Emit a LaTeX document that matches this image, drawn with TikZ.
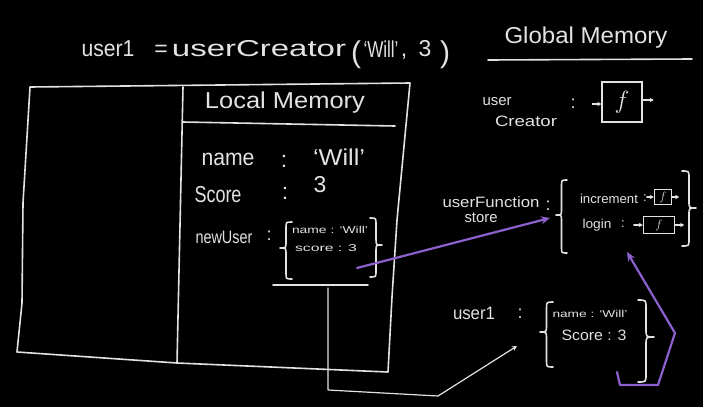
\documentclass[tikz,border=0pt]{standalone}
\usepackage{fontspec}
\setmainfont{Liberation Sans}
\usetikzlibrary{arrows.meta}
\definecolor{chalk}{RGB}{226,226,226}
\definecolor{pchalk}{RGB}{140,96,205}
\newcommand{\hw}[2]{\resizebox{#1pt}{\height}{#2}}
\newcommand{\fsBig}{\fontsize{23}{26}\selectfont}
\newcommand{\fsHuge}{\fontsize{30}{32}\selectfont}
\newcommand{\fsMid}{\fontsize{18}{20}\selectfont}
\newcommand{\fsSm}{\fontsize{15}{17}\selectfont}
\newcommand{\fsXs}{\fontsize{13}{15}\selectfont}
\newcommand{\fsTiny}{\fontsize{10}{12}\selectfont}
% left brace: x of open ends, ytop, ybot, ytip, width
\newcommand{\chalkLB}[5]{\draw[chalkline] (#1,#2) .. controls ({#1-#5/2},#2) .. ({#1-#5/2},{#2+#5/2}) -- ({#1-#5/2},{#4-#5/2}) .. controls ({#1-#5/2},#4) .. ({#1-#5},#4) .. controls ({#1-#5/2},#4) .. ({#1-#5/2},{#4+#5/2}) -- ({#1-#5/2},{#3-#5/2}) .. controls ({#1-#5/2},#3) .. (#1,#3);}
\newcommand{\chalkRB}[5]{\draw[chalkline] (#1,#2) .. controls ({#1+#5/2},#2) .. ({#1+#5/2},{#2+#5/2}) -- ({#1+#5/2},{#4-#5/2}) .. controls ({#1+#5/2},#4) .. ({#1+#5},#4) .. controls ({#1+#5/2},#4) .. ({#1+#5/2},{#4+#5/2}) -- ({#1+#5/2},{#3-#5/2}) .. controls ({#1+#5/2},#3) .. (#1,#3);}
\begin{document}
\begin{tikzpicture}[x=1pt,y=-1pt,
  chalkline/.style={draw=chalk,line width=1.6pt,line cap=round,line join=round},
  thinline/.style={draw=chalk,line width=1.2pt,line cap=round,line join=round},
  purp/.style={draw=pchalk,line width=2.2pt,line cap=round,line join=round},
  txt/.style={text=chalk,inner sep=0pt,anchor=center},
  fbox/.style={draw=chalk,line width=1.4pt,inner sep=0pt,text=chalk},
  tip/.style={-{Stealth[length=4pt,width=4.5pt]}}]
\useasboundingbox (0,0) rectangle (703,407);
\fill[black] (0,0) rectangle (703,407);

% ---- title
\node[txt,font=\fsBig] (tUser) at (108,49) {\hw{53}{user1}};
\node[txt,font=\fsBig] (tEq) at (161,51) {=};
\node[txt,font=\fsBig] (tCall) at (259,49) {\hw{174}{userCreator}};
\node[txt,font=\fsHuge] (tOpen) at (356,55) {(};
\node[txt,font=\fsBig] (tWill) at (381,49) {\hw{35}{‘Will’}};
\node[txt,font=\fsBig] (tComma) at (404,57) {,};
\node[txt,font=\fsBig] (tThree) at (425,49) {3};
\node[txt,font=\fsHuge] (tClose) at (445,55) {)};

% ---- global memory header
\node[txt,font=\fsBig] (gHead) at (586,38) {\hw{163}{Global Memory}};
\coordinate (gUL) at (488,60);
\coordinate (gUR) at (692,59);
\draw[chalkline] (gUL) -- (gUR);

% ---- execution context box
\draw[chalkline] (30,87) -- (410,83) -- (397,220) -- (392,297) -- (388,372) -- (177,363) -- (17,352) -- (22,303) -- (23,203) -- cycle;
\draw[chalkline] (183,87) -- (177,363);
\draw[chalkline] (183,122) -- (395,126);
\node[txt,font=\fsBig] (lHead) at (285,103) {\hw{160}{Local Memory}};

\node[txt,font=\fsBig] (lName) at (228,159) {\hw{53}{name}};
\node[txt,font=\fsBig] (lC1) at (284,161) {:};
\node[txt,font=\fsBig] (lWill) at (339,157) {\hw{52}{‘Will’}};
\node[txt,font=\fsBig] (lScore) at (218,195) {\hw{47}{Score}};
\node[txt,font=\fsBig] (lC2) at (285,193) {:};
\node[txt,font=\fsBig] (lThree) at (320,185) {3};

\node[txt,font=\fsMid] (lNew) at (224,237) {\hw{57}{newUser}};
\node[txt,font=\fsMid] (lC3) at (269,236) {:};
\chalkLB{292}{222}{279}{248}{12}
\node[txt,font=\fsTiny] (nuName) at (330,230) {\hw{76}{name : ‘Will’}};
\node[txt,font=\fsTiny] (nuScore) at (326,248) {\hw{62}{score : 3}};
\chalkRB{370}{218}{277}{245}{12}

\coordinate (ulL) at (273,285);
\coordinate (ulR) at (368,285);
\draw[chalkline] (ulL) -- (ulR);
\coordinate (stemTop) at (328,288);
\coordinate (stemBot) at (328,390);
\coordinate (kink) at (438,396);
\coordinate (u1Tip) at (517,346);
\draw[thinline,-{Stealth[length=5pt,width=5pt]}] (stemTop) -- (stemBot) -- (kink) -- (u1Tip);

% ---- global: userCreator
\node[txt,font=\fsSm] (gUser) at (497,102) {\hw{29}{user}};
\node[txt,font=\fsSm] (gCreator) at (526,121) {\hw{62}{Creator}};
\node[txt,font=\fsMid] (gC1) at (573,104) {:};
\node[fbox,minimum width=40pt,minimum height=40pt] (fA) at (622,102) {\fontsize{30}{32}\selectfont$f$};
\draw[thinline,tip] ([xshift=-9pt,yshift=-2pt]fA.west) -- ([yshift=-2pt]fA.west);
\draw[thinline,tip] ([yshift=2pt]fA.east) -- ++(11,0);

% ---- global: userFunctionStore
\node[txt,font=\fsSm] (gUF) at (491,202) {\hw{97}{userFunction}};
\node[txt,font=\fsSm] (gStore) at (481,218) {\hw{33}{store}};
\node[txt,font=\fsMid] (gC2) at (548,206) {:};
\chalkLB{567}{180}{253}{215}{11}
\node[txt,font=\fsXs] (gInc) at (609,199) {\hw{58}{increment}};
\node[txt,font=\fsXs] (gC3) at (645,198) {:};
\node[fbox,minimum width=17pt,minimum height=15pt] (fB) at (663,197) {\fontsize{12}{13}\selectfont$f$};
\draw[thinline,tip] ([xshift=-7pt]fB.west) -- (fB.west);
\draw[thinline,tip] (fB.east) -- ++(7,0);
\node[txt,font=\fsXs] (gLogin) at (597,225) {\hw{29}{login}};
\node[txt,font=\fsXs] (gC4) at (623,224) {:};
\node[fbox,minimum width=31pt,minimum height=17pt] (fC) at (659,225) {\fontsize{13}{14}\selectfont$f$};
\draw[thinline,tip] ([xshift=-9pt]fC.west) -- (fC.west);
\draw[thinline,tip] (fC.east) -- ++(9,0);
\chalkRB{682}{171}{246}{208}{14}

% ---- global: user1
\node[txt,font=\fsMid] (gU1) at (474,313) {\hw{42}{user1}};
\node[txt,font=\fsMid] (gC5) at (520,314) {:};
\chalkLB{553}{302}{367}{332}{13}
\node[txt,font=\fsTiny] (u1Name) at (590,314) {\hw{75}{name : ‘Will’}};
\node[txt,font=\fsSm] (u1Score) at (594,335) {\hw{65}{Score : 3}};
\chalkRB{638}{300}{382}{337}{16}

% ---- purple arrows
\coordinate (pStart) at (357,268);
\coordinate (pEnd) at (550,218);
\draw[purp,-{Stealth[length=9pt,width=8pt]}] (pStart) -- (pEnd);
\coordinate (qA) at (617,372);
\coordinate (qB) at (620,385);
\coordinate (qC) at (658,385);
\coordinate (qD) at (675,333);
\coordinate (qE) at (627,252);
\draw[purp,-{Stealth[length=9pt,width=8pt]}] (qA) -- (qB) -- (qC) -- (qD) -- (qE);
\end{tikzpicture}
\end{document}
